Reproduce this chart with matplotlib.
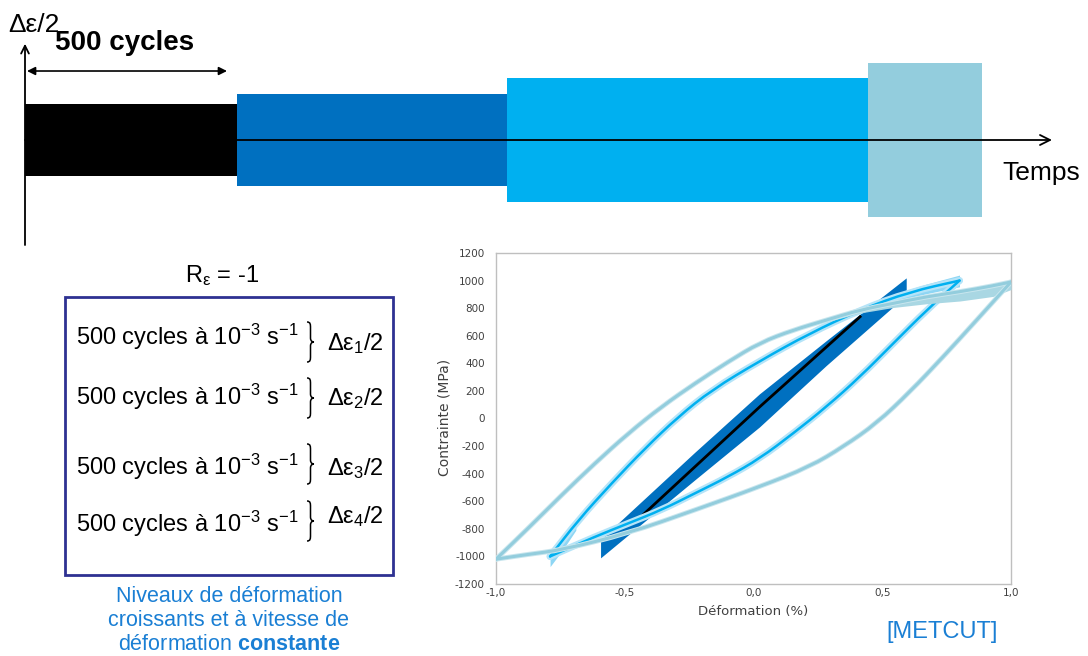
import numpy as np
import matplotlib.pyplot as plt
from matplotlib.path import Path
from matplotlib.patches import PathPatch, Rectangle

plt.rcParams['font.family'] = ['Liberation Sans', 'DejaVu Sans']
plt.rcParams['mathtext.fontset'] = 'custom'
plt.rcParams['mathtext.rm'] = 'Liberation Sans'
plt.rcParams['mathtext.it'] = 'Liberation Sans:italic'
plt.rcParams['mathtext.bf'] = 'Liberation Sans:bold'

# --- schematic of the loading sequence (time units ~ px, amplitude in schematic units)
block_start = [0, 212, 482, 843]
block_end = [212, 482, 843, 957]
block_amp = [0.47, 0.60, 0.80, 1.00]
block_colors = ['#000000', '#0070C0', '#00B0F0', '#93CDDD']

# --- left box
level_labels = ['1', '2', '3', '4']

# --- hysteresis loops, strain (%) / stress (MPa)
light_up_x = [-1.00, -0.875, -0.745, -0.616, -0.486, -0.357, -0.227, -0.098, 0.025,
              0.155, 0.284, 0.414, 0.543, 0.672, 0.802, 0.93, 1.00]
light_up_y = [-1020, -796, -555, -325, -107, 86, 255, 412, 550,
              642, 714, 787, 835, 883, 919, 962, 990]
light_lo_x = [1.00, 0.867, 0.737, 0.608, 0.478, 0.349, 0.219, 0.025, -0.227,
              -0.486, -0.745, -0.875, -1.00]
light_lo_y = [990, 714, 448, 194, -35, -204, -349, -494, -663,
              -832, -953, -985, -1020]
# band of the last cycles near the tension tip
light_tip_x = [0.284, 0.414, 0.543, 0.672, 0.802, 0.93, 1.00]
light_tip_lo = [700, 765, 805, 832, 852, 885, 935]

bright_up_x = [-0.79, -0.68, -0.551, -0.421, -0.292, -0.162, 0.025, 0.219, 0.414, 0.608, 0.80]
bright_up_y = [-1000, -736, -470, -216, 13, 207, 418, 618, 787, 919, 1000]
bright_lo_x = [0.80, 0.673, 0.543, 0.414, 0.284, 0.155, 0.025, -0.098, -0.227,
               -0.357, -0.486, -0.616, -0.79]
bright_lo_y = [1000, 787, 545, 303, 86, -107, -289, -422, -542,
               -663, -760, -857, -1000]
# spread of the cycles at both tips
bright_tr_x = [0.414, 0.543, 0.672, 0.80]
bright_tr_hi = [800, 900, 975, 1040]
bright_tr_lo = [775, 850, 905, 955]
bright_bl_x = [-0.79, -0.74, -0.69]
bright_bl_hi = [-953, -850, -725]
bright_bl_lo = [-1074, -950, -810]

dark_top_x = [-0.592, -0.227, 0.025, 0.284, 0.595]
dark_top_y = [-880, -250, 175, 560, 1016]
dark_bot_x = [0.595, 0.284, 0.025, -0.227, -0.592]
dark_bot_y = [890, 380, -65, -450, -1014]

black_x = [-0.43, 0.025, 0.414]
black_y = [-700, 86, 738]

W, H = 1088, 656
fig = plt.figure(figsize=(W / 100, H / 100), dpi=100)

# overlay in pixel coordinates for texts
ov = fig.add_axes([0, 0, 1, 1])
ov.set_xlim(0, W)
ov.set_ylim(H, 0)
ov.axis('off')

# schematic axes: origin at the time axis, 77 px per amplitude unit
sax = fig.add_axes([0, 0, 1, 1])
sax.set_xlim(-25, W - 25)
sax.set_ylim(-(H - 140) / 77, 140 / 77)
sax.axis('off')
for s, e, a, c in zip(block_start, block_end, block_amp, block_colors):
    sax.bar(s, 2 * a, bottom=-a, width=e - s, align='edge', color=c, linewidth=0)
sax.annotate('', xy=(1027, 0), xytext=(0, 0),
             arrowprops=dict(arrowstyle='->', lw=1.3, color='black',
                             shrinkA=0, shrinkB=0, mutation_scale=18))
sax.annotate('', xy=(0, 1.25), xytext=(0, -1.364),
             arrowprops=dict(arrowstyle='->', lw=1.3, color='black',
                             shrinkA=0, shrinkB=0, mutation_scale=14))
sax.annotate('', xy=(202, 0.896), xytext=(2, 0.896),
             arrowprops=dict(arrowstyle='<|-|>', lw=1.2, color='black',
                             shrinkA=0, shrinkB=0, mutation_scale=12))

ov.text(8, 32, 'Δε/2', fontsize=19, va='baseline')
ov.text(55, 50, '500 cycles', fontsize=20, fontweight='bold', va='baseline')
ov.text(1002, 180, 'Temps', fontsize=19, va='baseline')

# left box
ov.text(222, 282, r'R$_\mathregular{ε}$ = -1', fontsize=17, ha='center', va='baseline')
ov.add_patch(Rectangle((65, 297), 328, 278, fill=False, edgecolor='#2E3192', lw=2))
row_base = [345, 405, 475, 532]
lab_base = [350, 405, 475, 523]
brace_c = [342, 398, 464, 521]


def brace(ax, x0, yc, h, w=7):
    yt, yb = yc - h / 2, yc + h / 2
    xm = x0 + w / 2
    verts = [(x0, yt), (xm, yt), (xm, yt + 0.06 * h), (xm, yt + 0.15 * h),
             (xm, yc - 0.1 * h),
             (xm, yc - 0.02 * h), (x0 + 0.8 * w, yc), (x0 + w, yc),
             (x0 + 0.8 * w, yc), (xm, yc + 0.02 * h), (xm, yc + 0.1 * h),
             (xm, yb - 0.15 * h),
             (xm, yb - 0.06 * h), (xm, yb), (x0, yb)]
    codes = [Path.MOVETO, Path.CURVE4, Path.CURVE4, Path.CURVE4, Path.LINETO,
             Path.CURVE4, Path.CURVE4, Path.CURVE4,
             Path.CURVE4, Path.CURVE4, Path.CURVE4, Path.LINETO,
             Path.CURVE4, Path.CURVE4, Path.CURVE4]
    ax.add_patch(PathPatch(Path(verts, codes), fill=False, lw=1.1, color='black'))


for rb, lb, bc, lv in zip(row_base, lab_base, brace_c, level_labels):
    ov.text(76, rb, r'500 cycles à 10$^\mathregular{-3}$ s$^\mathregular{-1}$',
            fontsize=17, va='baseline')
    brace(ov, 307, bc, 40)
    ov.text(327, lb, r'Δε$_\mathregular{%s}$/2' % lv, fontsize=17, va='baseline')

blue_txt = '#1A7FD4'
ov.text(229, 596, 'Niveaux de déformation', fontsize=15.5, color=blue_txt,
        ha='center', va='center')
ov.text(229, 621, 'croissants et à vitesse de', fontsize=15.5, color=blue_txt,
        ha='center', va='center')
ov.text(229, 645, r'déformation $\mathbf{constante}$', fontsize=15.5, color=blue_txt,
        ha='center', va='center')
ov.text(942, 632, '[METCUT]', fontsize=17, color=blue_txt, ha='center', va='center')


def smooth(ax, xs, ys, **kw):
    # quadratic Bezier through the midpoints, read points used as control points
    pts = list(zip(xs, ys))
    verts = [pts[0]]
    codes = [Path.MOVETO]
    mids = [((a[0] + b[0]) / 2, (a[1] + b[1]) / 2) for a, b in zip(pts[:-1], pts[1:])]
    verts.append(mids[0])
    codes.append(Path.LINETO)
    for p, m in zip(pts[1:-1], mids[1:]):
        verts += [p, m]
        codes += [Path.CURVE3, Path.CURVE3]
    verts.append(pts[-1])
    codes.append(Path.LINETO)
    ax.add_patch(PathPatch(Path(verts, codes), fill=False, capstyle='round', **kw))


# hysteresis chart
ax = fig.add_axes([496 / W, (H - 584) / H, 515 / W, 331 / H])
ax.set_xlim(-1, 1)
ax.set_ylim(-1200, 1200)
ax.fill(dark_top_x + dark_bot_x, dark_top_y + dark_bot_y, color='#0070C0', lw=0, zorder=1)
ax.plot(black_x, black_y, color='black', lw=2.0, zorder=2)
ax.fill_between(bright_tr_x, bright_tr_lo, bright_tr_hi, color='#8ED6F4', lw=0, zorder=3)
ax.fill_between(bright_bl_x, bright_bl_lo, bright_bl_hi, color='#8ED6F4', lw=0, zorder=3)
for xs, ys in [(bright_up_x, bright_up_y), (bright_lo_x, bright_lo_y)]:
    smooth(ax, xs, ys, color='#B5E4F8', lw=5, zorder=3)
    smooth(ax, xs, ys, color='#00B0F0', lw=1.8, zorder=4)
ax.fill_between(light_tip_x, light_tip_lo, light_up_y[-7:], color='#A9D7E3', lw=0, zorder=5)
for xs, ys in [(light_up_x, light_up_y), (light_lo_x, light_lo_y)]:
    smooth(ax, xs, ys, color='#C9E6EE', lw=3.6, zorder=5)
    smooth(ax, xs, ys, color='#93CDDD', lw=2.2, zorder=6)

xt = [-1.0, -0.5, 0.0, 0.5, 1.0]
ax.set_xticks(xt)
ax.set_xticklabels([('%.1f' % v).replace('.', ',') for v in xt])
yt = list(range(-1200, 1201, 200))
ax.set_yticks(yt)
ax.set_yticklabels([str(v) for v in yt])
ax.tick_params(length=0, labelsize=7.5, colors='#404040', labelfontfamily='DejaVu Sans')
ax.tick_params(axis='x', pad=3)
ax.tick_params(axis='y', pad=8)
for sp in ax.spines.values():
    sp.set_color('#BFBFBF')
    sp.set_linewidth(1)

ov.text(753, 611, 'Déformation (%)', fontsize=9.5, color='#404040',
        family='DejaVu Sans', ha='center', va='center')
ov.text(445, 417, 'Contrainte (MPa)', fontsize=10, color='#404040',
        family='DejaVu Sans', ha='center', va='center', rotation=90)

fig.savefig('out.png', dpi=100)
